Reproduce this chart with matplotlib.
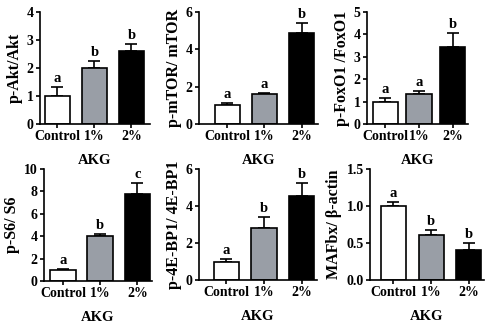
import matplotlib
matplotlib.use("Agg")
import matplotlib.pyplot as plt

plt.rcParams['font.family'] = ['Liberation Serif', 'DejaVu Serif']
plt.rcParams['font.weight'] = 'bold'

groups = ["Control", "1%", "2%"]
bar_colors = ["white", "#999ea6", "black"]
xlabel = "AKG"

ylabels = ["p-Akt/Akt", "p-mTOR/ mTOR", "p-FoxO1 /FoxO1",
           "p-S6/ S6", "p-4E-BP1/ 4E-BP1", "MAFbx/ \u03b2-actin"]

akt_mean = [1.0, 2.0, 2.6]
akt_err = [0.33, 0.25, 0.27]
akt_sig = ["a", "b", "b"]

mtor_mean = [1.0, 1.6, 4.9]
mtor_err = [0.12, 0.05, 0.52]
mtor_sig = ["a", "a", "b"]

foxo_mean = [1.0, 1.33, 3.45]
foxo_err = [0.17, 0.15, 0.62]
foxo_sig = ["a", "a", "b"]

s6_mean = [1.0, 4.0, 7.75]
s6_err = [0.1, 0.2, 1.0]
s6_sig = ["a", "b", "c"]

bp1_mean = [1.0, 2.8, 4.55]
bp1_err = [0.15, 0.6, 0.68]
bp1_sig = ["a", "b", "b"]

mafbx_mean = [1.0, 0.61, 0.4]
mafbx_err = [0.05, 0.06, 0.1]
mafbx_sig = ["a", "b", "b"]

yticks = [[0, 1, 2, 3, 4], [0, 2, 4, 6], [0, 1, 2, 3, 4, 5],
          [0, 2, 4, 6, 8, 10], [0, 2, 4, 6], [0.0, 0.5, 1.0, 1.5]]
yticklabels = [None, None, None, None, None, ["0.0", "0.5", "1.0", "1.5"]]

panels = [(akt_mean, akt_err, akt_sig), (mtor_mean, mtor_err, mtor_sig),
          (foxo_mean, foxo_err, foxo_sig), (s6_mean, s6_err, s6_sig),
          (bp1_mean, bp1_err, bp1_sig), (mafbx_mean, mafbx_err, mafbx_sig)]

W, H = 490, 331
# pixel boxes: left, right, top, bottom ; xlim ; bar width
boxes = [(40, 150, 12, 124, (-0.47, 2.5), 0.68),
         (199, 318, 12, 124, (-0.75, 2.43), 0.67),
         (367, 468, 12, 124, (-0.55, 2.46), 0.75),
         (44, 152, 169, 281, (-0.51, 2.39), 0.69),
         (199, 317, 169, 280, (-0.73, 2.41), 0.67),
         (370, 484, 169, 280, (-0.62, 2.40), 0.66)]

fig = plt.figure(figsize=(W / 100, H / 100), dpi=100)
fs = 10
for i, ((mean, err, sig), (l, r, t, b, xl, bw)) in enumerate(zip(panels, boxes)):
    ax = fig.add_axes([l / W, 1 - b / H, (r - l) / W, (b - t) / H])
    x = range(len(groups))
    ax.bar(x, mean, width=bw, color=bar_colors, edgecolor="black", linewidth=1.2,
           zorder=2)
    ax.errorbar(x, mean, yerr=[[0] * 3, err], fmt="none", ecolor="black",
                elinewidth=1.2, capsize=4.5, capthick=1.2, zorder=1)
    for xi, m, e, s in zip(x, mean, err, sig):
        ax.annotate(s, (xi, m + e), xytext=(0, 1.5), textcoords="offset points",
                    ha="center", va="bottom", fontsize=10.5, fontweight="bold")
    ax.set_xlim(*xl)
    ax.set_ylim(yticks[i][0], yticks[i][-1])
    ax.set_yticks(yticks[i])
    if yticklabels[i]:
        ax.set_yticklabels(yticklabels[i])
    ax.set_xticks(list(x))
    ax.set_xticklabels(groups)
    ax.set_ylabel(ylabels[i], fontsize=11.5, fontweight="bold", labelpad=3)
    ax.set_xlabel(xlabel, fontsize=10.5, fontweight="bold", labelpad=8)
    for sp in ["top", "right"]:
        ax.spines[sp].set_visible(False)
    for sp in ["left", "bottom"]:
        ax.spines[sp].set_linewidth(1.2)
    ax.tick_params(axis="both", labelsize=fs, width=1.2, length=3, pad=1.5)
    for lab in ax.get_xticklabels() + ax.get_yticklabels():
        lab.set_fontweight("bold")

fig.savefig("out.png", dpi=100)
